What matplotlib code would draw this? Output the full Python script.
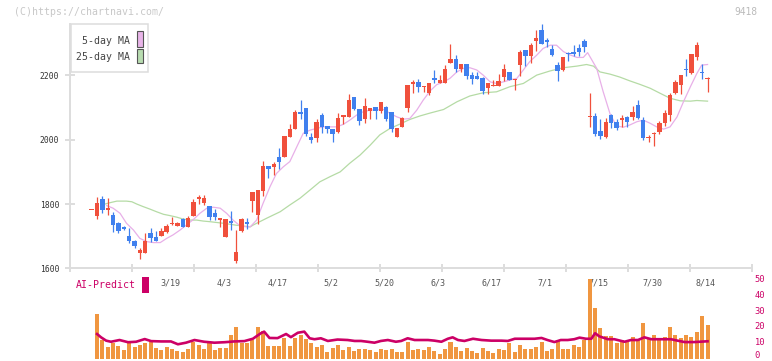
import numpy as np
import matplotlib
matplotlib.use("Agg")
import matplotlib.pyplot as plt
from matplotlib.patches import Rectangle
from matplotlib.transforms import blended_transform_factory, ScaledTranslation

# daily candles (open, high, low, close), first one is a no-trade day
opens = [1781, 1764, 1815, 1782, 1766, 1740, 1728, 1700, 1685, 1648,
         1648, 1709, 1696, 1701, 1714, 1737, 1732, 1753, 1729, 1764,
         1815, 1804, 1794, 1771, 1750, 1698, 1747, 1624, 1717, 1743,
         1809, 1766, 1840, 1918, 1914, 1946, 1947, 2009, 2032, 2086,
         2099, 2009, 2006, 2077, 2043, 2034, 2025, 2070, 2070, 2133,
         2095, 2063, 2088, 2102, 2089, 2102, 2086, 2007, 2040, 2099,
         2174, 2180, 2164, 2145, 2192, 2177, 2177, 2239, 2251, 2220,
         2235, 2201, 2199, 2192, 2161, 2168, 2168, 2196, 2211, 2186,
         2232, 2279, 2261, 2308, 2341, 2310, 2282, 2232, 2217, 2270,
         2273, 2285, 2308, 2071, 2074, 2027, 2008, 2077, 2055, 2061,
         2071, 2071, 2108, 2061, 2006, 2019, 2024, 2052, 2077, 2145,
         2170, 2220, 2207, 2258, 2211, 2188]
highs = [1781, 1823, 1826, 1818, 1776, 1745, 1731, 1724, 1687, 1664,
         1709, 1726, 1716, 1726, 1737, 1760, 1745, 1755, 1762, 1815,
         1828, 1828, 1794, 1784, 1757, 1753, 1778, 1718, 1757, 1757,
         1837, 1844, 1934, 1918, 1932, 1975, 2011, 2049, 2094, 2123,
         2099, 2020, 2063, 2082, 2043, 2034, 2082, 2077, 2142, 2133,
         2095, 2130, 2099, 2102, 2117, 2105, 2086, 2038, 2072, 2170,
         2186, 2189, 2167, 2176, 2217, 2201, 2232, 2298, 2263, 2235,
         2235, 2211, 2211, 2194, 2175, 2186, 2206, 2235, 2211, 2190,
         2279, 2279, 2302, 2341, 2360, 2316, 2294, 2242, 2257, 2274,
         2294, 2298, 2313, 2146, 2083, 2064, 2067, 2080, 2064, 2077,
         2074, 2105, 2123, 2070, 2015, 2024, 2058, 2092, 2145, 2186,
         2201, 2251, 2266, 2304, 2235, 2196]
lows = [1781, 1753, 1773, 1765, 1714, 1709, 1719, 1680, 1664, 1629,
        1647, 1683, 1685, 1701, 1709, 1735, 1732, 1727, 1729, 1764,
        1799, 1797, 1751, 1750, 1729, 1698, 1719, 1617, 1714, 1723,
        1774, 1737, 1826, 1882, 1890, 1909, 1947, 2009, 2032, 2066,
        2012, 1991, 1994, 2020, 2020, 1994, 2020, 2049, 2070, 2091,
        2046, 2053, 2063, 2063, 2084, 2059, 2025, 2007, 2040, 2087,
        2144, 2149, 2147, 2139, 2175, 2175, 2177, 2239, 2211, 2211,
        2189, 2173, 2189, 2143, 2143, 2166, 2168, 2184, 2186, 2155,
        2198, 2230, 2239, 2277, 2298, 2289, 2261, 2183, 2214, 2246,
        2260, 2260, 2274, 2040, 2012, 2002, 2005, 2036, 2030, 2040,
        2039, 2061, 2064, 1999, 1993, 1980, 2018, 2043, 2059, 2142,
        2142, 2199, 2204, 2249, 2189, 2149]
closes = [1781, 1804, 1781, 1787, 1735, 1716, 1722, 1685, 1670, 1657,
          1685, 1695, 1685, 1716, 1732, 1742, 1742, 1729, 1757, 1807,
          1823, 1820, 1759, 1759, 1755, 1753, 1742, 1652, 1752, 1739,
          1837, 1844, 1918, 1910, 1924, 1932, 2011, 2033, 2087, 2079,
          2017, 1999, 2055, 2040, 2034, 2019, 2067, 2077, 2123, 2095,
          2059, 2105, 2099, 2089, 2117, 2063, 2033, 2038, 2067, 2170,
          2180, 2165, 2167, 2176, 2186, 2186, 2220, 2251, 2220, 2235,
          2199, 2189, 2189, 2151, 2175, 2170, 2182, 2220, 2186, 2190,
          2273, 2261, 2294, 2316, 2298, 2305, 2263, 2215, 2257, 2267,
          2267, 2273, 2289, 2074, 2018, 2011, 2055, 2052, 2036, 2067,
          2055, 2086, 2067, 2005, 2009, 2022, 2052, 2083, 2139, 2179,
          2201, 2218, 2266, 2294, 2208, 2190]

# volume (first day has none)
volume = [0,
          28.2, 11.7, 7.3, 9.6, 7.9, 5.4, 9.6, 7.1, 8.5, 9.6,
          10.2, 6.6, 5.4, 7.1, 5.8, 4.9, 4.1, 6.0, 10.6, 8.5,
          6.0, 9.6, 5.4, 6.6, 6.6, 14.9, 19.9, 9.6, 9.6, 11.7,
          19.9, 17.4, 7.9, 7.9, 7.9, 13.2, 7.9, 13.2, 14.7, 12.2,
          9.6, 7.3, 8.5, 4.1, 6.6, 8.5, 5.4, 7.3, 4.9, 6.0,
          6.0, 5.4, 4.1, 6.0, 5.4, 6.0, 4.1, 4.1, 10.6, 5.4,
          6.0, 5.4, 7.1, 4.7, 2.8, 6.0, 10.6, 7.1, 4.7, 6.6,
          4.7, 3.2, 6.6, 4.7, 3.2, 6.0, 5.4, 10.0, 4.1, 8.5,
          6.0, 6.0, 7.3, 10.6, 4.5, 5.8, 11.7, 6.0, 6.0, 8.5,
          7.1, 11.7, 50.3, 32.2, 19.1, 14.2, 14.2, 10.0, 11.7, 10.6,
          13.6, 11.7, 22.7, 12.2, 14.9, 11.7, 13.6, 20.1, 14.9, 12.9,
          14.9, 13.6, 17.0, 26.9, 21.2]

# moving averages (candle index, value)
ma5_pos = [2.8, 4.0, 5.3, 6.5, 7.8, 9.0, 10.3, 11.5, 12.8, 14.0, 15.2, 16.5,
           17.7, 19.0, 20.2, 21.5, 22.7, 24.0, 25.2, 26.4, 27.7, 28.9, 29.6,
           30.8, 32.0, 33.3, 34.5, 35.8, 37.0, 38.3, 39.5, 40.8, 42.0, 43.2,
           45.8, 47.0, 48.2, 49.5, 50.7, 52.0, 54.5, 55.7, 57.0, 58.2, 59.4,
           60.7, 61.9, 63.2, 64.4, 65.7, 66.9, 68.2, 69.4, 70.6, 71.9, 73.1,
           74.4, 75.6, 76.9, 78.1, 79.4, 80.6, 81.8, 83.1, 84.3, 85.6, 86.8,
           88.1, 89.3, 90.6, 91.8, 92.6, 94.3, 95.5, 96.8, 98.0, 99.3, 100.5,
           101.8, 103.0, 104.3, 105.5, 106.8, 108.0, 109.3, 110.5, 111.8,
           113.0, 113.9, 115.0]
ma5 = [1795, 1787, 1771, 1740, 1719, 1693, 1683, 1680, 1680, 1693, 1704, 1719,
       1735, 1752, 1771, 1787, 1790, 1787, 1771, 1750, 1732, 1729, 1729,
       1750, 1802, 1854, 1895, 1916, 1932, 1978, 2020, 2030, 2035, 2040,
       2040, 2048, 2061, 2077, 2087, 2092, 2094, 2082, 2071, 2064, 2066,
       2092, 2123, 2152, 2171, 2180, 2191, 2211, 2222, 2224, 2217, 2201,
       2180, 2175, 2180, 2186, 2191, 2217, 2243, 2263, 2284, 2294, 2294,
       2274, 2264, 2256, 2256, 2271, 2222, 2150, 2080, 2043, 2039, 2046,
       2056, 2061, 2051, 2040, 2033, 2040, 2071, 2118, 2165,
       2206, 2232, 2234]
ma25_pos = [2.5, 3.4, 4.7, 6.5, 7.5, 8.4, 9.6, 10.9, 12.1, 13.4, 14.6, 15.9,
            17.1, 18.4, 19.6, 20.8, 22.1, 24.6, 27.0, 29.6, 30.2, 32.7, 35.2,
            37.0, 38.9, 40.8, 42.6, 44.5, 46.4, 48.2, 50.1, 52.0, 53.8, 55.7,
            57.6, 59.4, 61.3, 63.2, 65.7, 68.2, 70.6, 73.1, 75.6, 78.1, 80.6,
            83.1, 85.6, 88.1, 90.6, 92.4, 93.7, 94.9, 96.8, 98.6, 100.5,
            102.4, 104.3, 106.2, 108.0, 109.9, 111.8, 113.0, 115.0]
ma25 = [1800, 1804, 1809, 1809, 1807, 1800, 1792, 1784, 1776, 1768, 1764, 1759,
        1753, 1750, 1750, 1747, 1745, 1740, 1734, 1729, 1735, 1756, 1776,
        1797, 1818, 1844, 1869, 1885, 1900, 1927, 1952, 1983, 2015, 2035,
        2049, 2063, 2074, 2083, 2094, 2118, 2136, 2146, 2149, 2165, 2175,
        2201, 2214, 2224, 2229, 2234, 2229, 2211, 2204, 2195, 2183,
        2172, 2160, 2144, 2129, 2121, 2120, 2122, 2120]
vma_pos = [1.0, 1.75, 2.7, 3.6, 5.2, 6.8, 8.3, 9.9, 11.1, 13.0, 14.8, 16.1,
           17.6, 19.2, 21.0, 22.9, 24.8, 26.6, 28.5, 30.1, 31.6, 32.2, 33.2,
           34.7, 36.3, 37.2, 38.5, 39.7, 40.7, 41.6, 42.8, 44.1, 45.9, 47.8,
           49.1, 50.3, 51.5, 52.8, 54.0, 55.3, 56.8, 57.8, 59.0, 60.3, 62.8,
           64.0, 65.3, 66.5, 67.4, 68.4, 69.6, 71.2, 72.8, 74.6, 76.5, 77.7,
           79.0, 82.7, 84.0, 85.1, 86.4, 87.6, 88.9, 90.1, 91.1, 92.3, 93.3,
           94.0, 94.8, 96.4, 97.6, 99.5, 100.7, 102.0, 103.2, 104.5, 106.3,
           108.2, 109.4, 110.7, 112.5, 115.0]
vma = [15.5, 13.4, 11.3, 10.6, 11.7, 10.3, 10.6, 12.3, 11.0, 10.8, 10.8, 9.0,
       10.0, 11.7, 10.6, 10.0, 10.3, 10.8, 11.0, 12.5, 16.0, 17.0, 13.0,
       12.9, 15.5, 13.5, 16.3, 17.0, 12.8, 12.2, 12.8, 11.1, 12.0, 11.7,
       11.1, 11.1, 10.6, 10.0, 11.1, 11.7, 10.6, 11.1, 12.8, 11.7, 11.7,
       11.3, 10.6, 12.5, 13.4, 11.7, 11.1, 12.5, 11.7, 11.3, 11.3, 11.1,
       12.5, 12.5, 13.0, 11.7, 10.4, 11.7, 11.7, 12.2, 13.2, 12.5, 12.5,
       16.0, 14.0, 12.2, 12.2, 10.6, 11.7, 11.7, 13.4, 12.2, 12.2,
       12.2, 11.3, 10.4, 10.4, 10.9]

date_labels = ["3/19", "4/3", "4/17", "5/2", "5/20", "6/3", "6/17",
               "7/1", "7/15", "7/30", "8/14"]
date_idx = [15, 25, 35, 45, 55, 65, 75, 85, 95, 105, 115]
price_ticks = [1600, 1800, 2000, 2200]
vol_ticks = [0, 10, 20, 30, 40, 50]

W, H = 772, 361
RED, BLUE = "#f0503c", "#4080ee"
MAGENTA = "#cc0066"
GRID = "#dddddd"
MONO = "DejaVu Sans Mono"


def fx(px):
    return px / W


def fy(py):
    return 1 - py / H


fig = plt.figure(figsize=(W / 100, H / 100), dpi=100)
fig.patch.set_facecolor("white")

xmin, xmax = -4.05, 123.3

# price panel
ax = fig.add_axes([fx(70), fy(268.3), (752 - 70) / W, (268.3 - 24) / H])
ax.set_xlim(xmin, xmax)
ax.set_ylim(1600, 2360)

o = np.array(opens, float)
h = np.array(highs, float)
l = np.array(lows, float)
c = np.array(closes, float)
idx = np.arange(len(o))
col = np.where(c >= o, RED, BLUE)

ax.plot(ma25_pos, ma25, color="#b5dba5", lw=0.9, zorder=2)
ax.plot(ma5_pos, ma5, color="#e8b0e8", lw=0.9, zorder=2)
ax.vlines(idx[1:], l[1:], h[1:], colors=col[1:], lw=0.9, zorder=3)
body = np.maximum(np.abs(c - o), 3.0)
ax.bar(idx, body, bottom=np.minimum(o, c), width=0.82, color=col,
       linewidth=0, zorder=4)

for s in ["top", "right"]:
    ax.spines[s].set_visible(False)
for s in ["left", "bottom"]:
    ax.spines[s].set_color(GRID)
    ax.spines[s].set_linewidth(1.4)

ax.set_yticks(price_ticks)
ax.set_yticklabels([str(t) for t in price_ticks], family=MONO, fontsize=5.8,
                   color="#333333")
ax.tick_params(axis="y", direction="inout", length=6.5, width=1.4,
               color=GRID, pad=4.5)

ax.set_xticks(np.linspace(xmin, xmax, 12))
ax.set_xticklabels([])
ax.tick_params(axis="x", which="major", direction="inout", length=5.8,
               width=1.4, color=GRID)
ax.set_xticks([i - 0.35 for i in date_idx], minor=True)
ax.set_xticklabels(date_labels, minor=True, family=MONO, fontsize=6,
                   color="#555555")
ax.tick_params(axis="x", which="minor", length=0, pad=7.5)

# volume panel
vax = fig.add_axes([fx(70), fy(358.5), (752 - 70) / W, (358.5 - 270) / H])
vax.set_xlim(xmin, xmax)
vax.set_ylim(0, 88.5 / 1.58)
vax.patch.set_alpha(0)
vax.bar(idx, volume, width=0.75, color="#f09640", linewidth=0, zorder=2)
vax.plot(vma_pos, vma, color=MAGENTA, lw=1.9, zorder=3)
for s in vax.spines.values():
    s.set_visible(False)
vax.set_xticks([])
vax.set_yticks([])

# right-hand volume scale
vtr = blended_transform_factory(vax.transAxes, vax.transData)
for t in vol_ticks:
    tr = vtr
    if t == 0:
        tr = vtr + ScaledTranslation(0, 2.5 / 100, fig.dpi_scale_trans)
    vax.text(1 + 2.5 / 682, t, str(t), transform=tr, family=MONO,
             fontsize=6.3, color=MAGENTA, ha="left", va="center",
             clip_on=False)

# header texts
fig.text(fx(14), fy(12), "(C)https://chartnavi.com/", family=MONO,
         fontsize=7.1, color="#c8c8c8", va="center", ha="left")
fig.text(fx(757), fy(12), "9418", family=MONO, fontsize=6.9,
         color="#bbbbbb", va="center", ha="right")


# legend box
def rect(x0, y0, x1, y1, **kw):
    r = Rectangle((fx(x0), fy(y1)), (x1 - x0) / W, (y1 - y0) / H,
                  transform=fig.transFigure, **kw)
    fig.patches.append(r)


rect(70.5, 24, 148.3, 71.7, facecolor="white", edgecolor="#dddddd", lw=1.1)
fig.text(fx(129.5), fy(40.7), "5-day MA", family=MONO, fontsize=7.1,
         color="#444444", ha="right", va="center")
fig.text(fx(129.5), fy(57), "25-day MA", family=MONO, fontsize=7.1,
         color="#444444", ha="right", va="center")
rect(136.5, 31.5, 142.5, 46.5, facecolor="#e8b4e8", edgecolor="#555555", lw=0.8)
rect(136.5, 48.5, 142.5, 63, facecolor="#b8dcb0", edgecolor="#555555", lw=0.8)

# AI-Predict label
fig.text(fx(76), fy(285.5), "AI-Predict", family=MONO, fontsize=7.1,
         color=MAGENTA, ha="left", va="center")
rect(142, 277.3, 149, 293, facecolor=MAGENTA, edgecolor="none")

fig.savefig("out.png", dpi=100)
